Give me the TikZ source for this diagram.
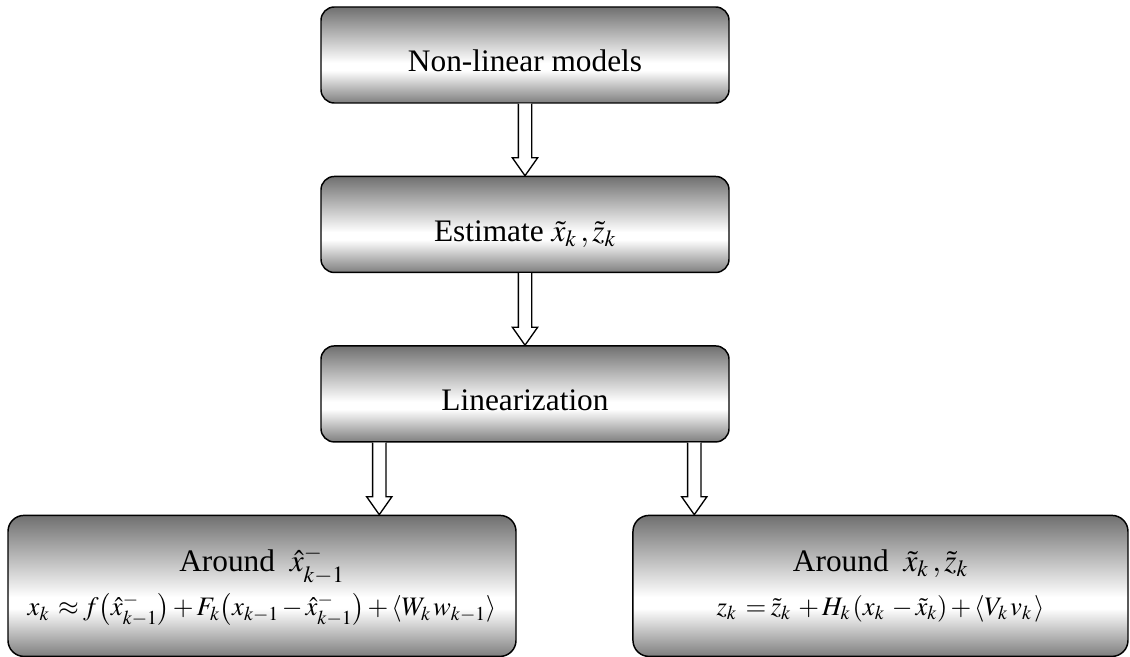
\documentclass[tikz,border=0pt]{standalone}
\usepackage{mathptmx}
\usepackage{fontspec}
\setmainfont{Liberation Serif}
\usepackage{tikz}
\usetikzlibrary{positioning,calc}
\definecolor{shadetop}{RGB}{112,112,112}
\definecolor{shadebot}{RGB}{126,126,126}
\pgfdeclareverticalshading{boxshade}{100bp}{color(0bp)=(shadebot); color(25bp)=(shadebot);
  color(42bp)=(white); color(46bp)=(white); color(75bp)=(shadetop); color(100bp)=(shadetop)}
% hollow block arrow, drawn straight down from #1 to the height of #2
\newcommand{\hollowarrow}[2]{%
  \filldraw[hollow] let \p1=(#1), \p2=(#2) in
    (\x1-5pt,\y1) -- (\x1-5pt,\y2+13.5pt) -- (\x1-9.5pt,\y2+13.5pt) -- (\x1,\y2)
    -- (\x1+9.5pt,\y2+13.5pt) -- (\x1+5pt,\y2+13.5pt) -- (\x1+5pt,\y1);}
\newcommand{\tightmath}{\medmuskip=2mu\thickmuskip=3mu\thinmuskip=1.5mu}

\begin{document}
\begin{tikzpicture}[node distance=54pt,
  every node/.style={font=\fontsize{23.5}{29}\selectfont},
  box/.style={draw=black,line width=1.1pt,rounded corners=10pt,shading=boxshade,
              minimum width=306pt,minimum height=72pt,inner sep=0pt,
              text height=31pt,text depth=6pt,align=center},
  wide/.style={draw=black,line width=1.1pt,rounded corners=12pt,shading=boxshade,
               minimum height=105.75pt,inner sep=0pt,align=center},
  hollow/.style={draw=black,fill=white,line width=1pt,line join=miter}]
\useasboundingbox (0,0) rectangle (847.5pt,-492pt);

\node[box] (nl) at (393.75pt,-41.25pt) {Non-linear models};
\node[box,below=of nl] (est) {Estimate $\tilde{x}_k\,, \tilde{z}_k$};
\node[box,below=of est] (lin) {Linearization};

\node[wide,minimum width=381pt,below=of lin,xshift=-197.25pt] (proc)
  {Around $\;\hat{x}_{k-1}^{-}$\\[4pt]
   \fontsize{20}{25}\selectfont$\tightmath x_k \;\approx f{\left(\hat{x}_{k-1}^{-}\right)}+F_k{\left(x_{k-1}-\hat{x}_{k-1}^{-}\right)}+{\left\langle W_k\,w_{k-1}\right\rangle}$};
\node[wide,minimum width=371.25pt,below=of lin,xshift=266.6pt] (meas)
  {Around $\;\tilde{x}_k\,, \tilde{z}_k$\\[4pt]
   \fontsize{20}{25}\selectfont$\tightmath z_k \;= \tilde{z}_k \;+ H_k\,{\left(x_k \;- \tilde{x}_k\right)}+{\left\langle V_k\,v_k\,\right\rangle}$};

\foreach \a/\b in {nl/est,est/lin} \hollowarrow{\a.south}{\b.north};
\hollowarrow{$(lin.south west)+(44.25pt,0)$}{proc.north}
\hollowarrow{$(lin.south east)+(-26.6pt,0)$}{meas.north}
\end{tikzpicture}
\end{document}
